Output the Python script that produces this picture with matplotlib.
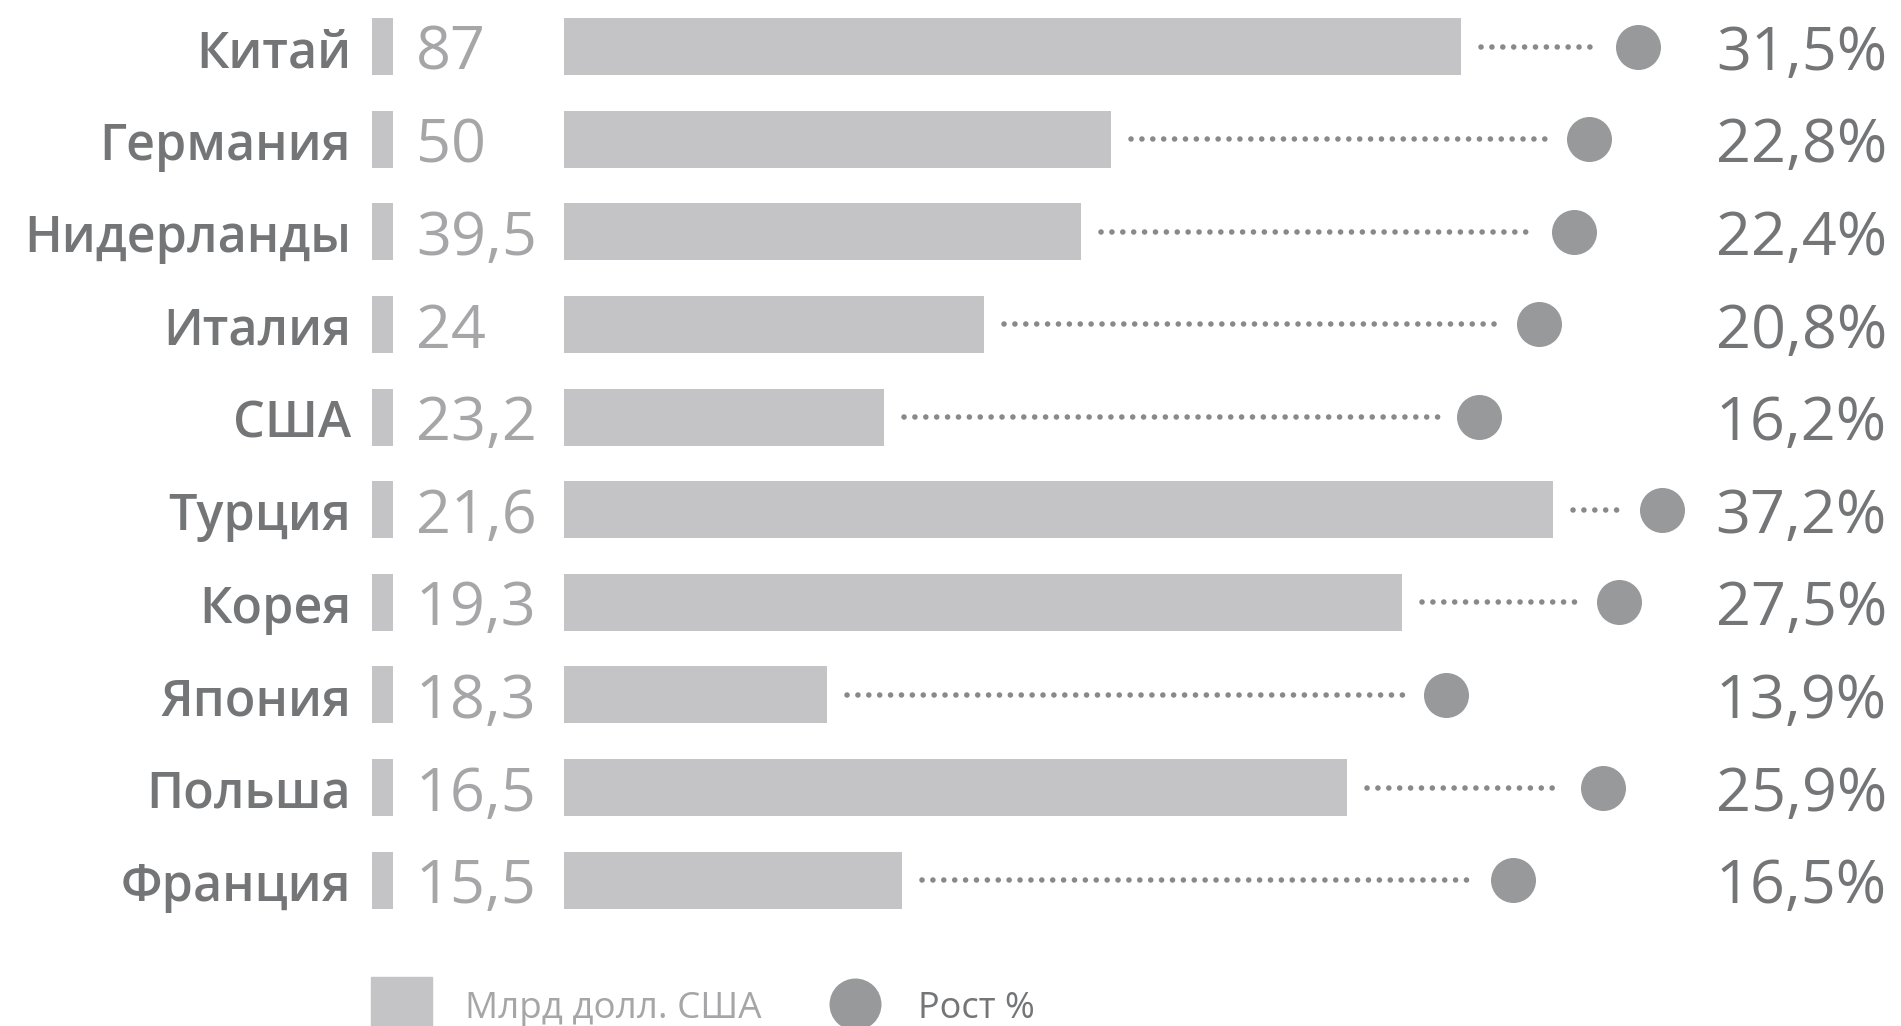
import matplotlib
matplotlib.use("Agg")
import matplotlib.pyplot as plt
from matplotlib.patches import Rectangle

plt.rcParams['font.family'] = ['Open Sans', 'DejaVu Sans']

# data
countries = ['Китай', 'Германия', 'Нидерланды', 'Италия', 'США',
             'Турция', 'Корея', 'Япония', 'Польша', 'Франция']
volume = [87, 50, 39.5, 24, 23.2, 21.6, 19.3, 18.3, 16.5, 15.5]      # млрд долл. США
growth = [31.5, 22.8, 22.4, 20.8, 16.2, 37.2, 27.5, 13.9, 25.9, 16.5]  # рост, %
# bar length and dot position as drawn (chart units)
bar_len = [89.7, 54.7, 51.7, 42.0, 32.0, 98.9, 83.8, 26.3, 78.3, 33.8]
dot_pos = [107.4, 102.5, 101.0, 97.5, 91.5, 109.8, 105.5, 88.2, 103.9, 94.9]

BAR_C = '#c4c4c6'
DOT_C = '#98999b'
LINE_C = '#88898b'
NAME_C = '#747577'
VAL_C = '#a6a6a8'
PCT_C = '#747577'


def fmt(v):
    return ('%g' % v).replace('.', ',')


fig = plt.figure(figsize=(19.01, 10.26), dpi=100)
ax = fig.add_axes([0, 0, 1, 1])
ax.set_xlim(-56.4, 133.7)
ax.set_ylim(10.575, -0.504)
ax.axis('off')

rows = list(range(len(countries)))

ax.barh(rows, bar_len, height=0.615, color=BAR_C)
# small marker next to the names
ax.barh(rows, [2.1] * len(rows), left=-19.2, height=0.615, color=BAR_C)

for i in rows:
    ax.plot([bar_len[i] + 2.0, dot_pos[i] - 4.0], [i, i], color=LINE_C,
            lw=4.0, linestyle=(0, (0.01, 1.95)), dash_capstyle='round')

ax.scatter(dot_pos, rows, s=1050, color=DOT_C, zorder=3, linewidths=0)

for i in rows:
    ax.text(-21.3, i + 0.22, countries[i], ha='right', va='baseline',
            fontsize=36.2, fontweight='semibold', color=NAME_C)
    ax.text(-14.8, i + 0.25, fmt(volume[i]), ha='left', va='baseline',
            fontsize=44, color=VAL_C)
    ax.text(132.3, i + 0.25, fmt(growth[i]) + '%', ha='right', va='baseline',
            fontsize=44, color=PCT_C)

# legend
ax.add_patch(Rectangle((-19.3, 10.05), 6.1, 1.0, color=BAR_C))
ax.text(-9.9, 10.49, 'Млрд долл. США', ha='left', va='baseline',
        fontsize=26.5, color=VAL_C)
ax.scatter([29.1], [10.34], s=1400, color=DOT_C, linewidths=0)
ax.text(35.4, 10.49, 'Рост %', ha='left', va='baseline',
        fontsize=26, color=PCT_C)

fig.savefig('out.png', dpi=100, facecolor='white')
